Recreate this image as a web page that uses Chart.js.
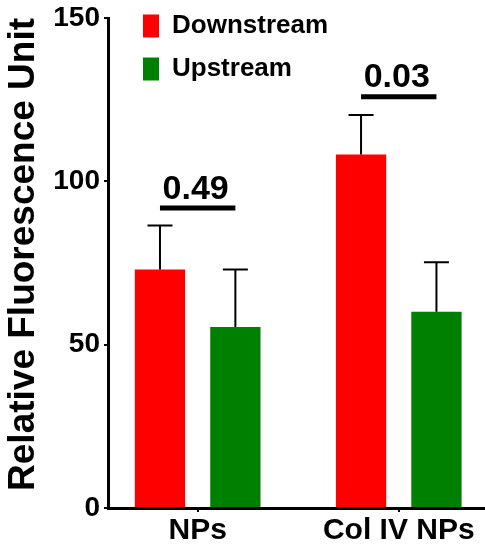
<!DOCTYPE html>
<html><head><meta charset="utf-8">
<script src="https://cdn.jsdelivr.net/npm/chart.js@4.4.1/dist/chart.umd.min.js"></script>
<style>html,body{margin:0;padding:0;background:#fff}</style>
</head><body>
<canvas id="c" width="485" height="550"></canvas>
<script>
const categories = ['NPs', 'Col IV NPs'];
const seriesNames = ['Downstream', 'Upstream'];
const downstream = [73.0, 108.2];
const upstream = [55.4, 60.1];
const downstreamErr = [13.5, 12.1];
const upstreamErr = [17.6, 15.1];
const pValues = ['0.49', '0.03'];
const bracketLevels = [91.8, 125.9];
const yTicks = [0, 50, 100, 150];
const yTitle = 'Relative Fluorescence Unit';

const FAM = "'Liberation Sans', Arial, sans-serif";
const errs = [downstreamErr, upstreamErr];

const overlay = {
  id: 'overlay',
  afterLayout(chart) {
    const lg = chart.legend;
    if (!lg) return;
    const dx = (chart.chartArea.left + 18) - lg.left;
    const dy = (chart.chartArea.top - 22) - lg.top;
    lg.left += dx; lg.right += dx; lg.top += dy; lg.bottom += dy;
  },
  afterDatasetsDraw(chart) {
    const ctx = chart.ctx, ys = chart.scales.y;
    ctx.save();
    ctx.strokeStyle = '#000';
    ctx.lineWidth = 2;
    chart.data.datasets.forEach((ds, d) => {
      const meta = chart.getDatasetMeta(d);
      meta.data.forEach((el, i) => {
        const v = ds.data[i].y;
        const yTop = ys.getPixelForValue(v + errs[d][i]);
        ctx.beginPath();
        ctx.moveTo(el.x, el.y);
        ctx.lineTo(el.x, yTop);
        ctx.moveTo(el.x - 12.5, yTop);
        ctx.lineTo(el.x + 12.5, yTop);
        ctx.stroke();
      });
    });
    const m0 = chart.getDatasetMeta(0), m1 = chart.getDatasetMeta(1);
    ctx.lineWidth = 5;
    ctx.fillStyle = '#000';
    ctx.font = 'bold 34px ' + FAM;
    ctx.textAlign = 'center';
    ctx.textBaseline = 'alphabetic';
    categories.forEach((c, i) => {
      const x0 = m0.data[i].x, x1 = m1.data[i].x;
      const yy = ys.getPixelForValue(bracketLevels[i]);
      ctx.beginPath();
      ctx.moveTo(x0, yy);
      ctx.lineTo(x1, yy);
      ctx.stroke();
      ctx.fillText(pValues[i], (x0 + x1) / 2 - 2, yy - 9.5);
    });
    ctx.restore();
  }
};

new Chart(document.getElementById('c'), {
  type: 'bar',
  data: {
    datasets: [
      { label: seriesNames[0], data: downstream.map((v, i) => ({x: i, y: v})), backgroundColor: '#FF0000', borderWidth: 0 },
      { label: seriesNames[1], data: upstream.map((v, i) => ({x: i, y: v})), backgroundColor: '#008000', borderWidth: 0 }
    ]
  },
  options: {
    responsive: false,
    animation: false,
    categoryPercentage: 0.75,
    barPercentage: 0.667,
    layout: { padding: { left: 0, right: 1, top: 0, bottom: 0 } },
    plugins: {
      legend: {
        position: 'chartArea',
        align: 'start',
        labels: { boxWidth: 16, boxHeight: 23, padding: 17, color: '#000', font: { size: 26, weight: 'bold', family: FAM } }
      },
      tooltip: { enabled: false }
    },
    scales: {
      x: {
        type: 'linear',
        min: -0.446,
        max: 1.424,
        offset: false,
        afterBuildTicks: s => { s.ticks = categories.map((c, i) => ({ value: i })); },
        afterFit: s => { s.height = 42; },
        ticks: { callback: v => categories[v] ?? '', color: '#000', padding: 1, maxRotation: 0, autoSkip: false, font: { size: 30, weight: 'bold', family: FAM, lineHeight: 1.2 } },
        grid: { offset: false, drawOnChartArea: false, drawTicks: true, tickLength: 4, color: '#000', lineWidth: 2 },
        border: { display: true, color: '#000', width: 3, z: 1 }
      },
      y: {
        min: 0,
        max: 150,
        afterBuildTicks: s => { s.ticks = yTicks.map(v => ({ value: v })); },
        afterFit: s => { s.width = 108; },
        ticks: { color: '#000', padding: 4, font: { size: 28, weight: 'bold', family: FAM, lineHeight: 1 } },
        grid: { drawOnChartArea: false, drawTicks: true, tickLength: 4, color: '#000', lineWidth: 2 },
        border: { display: true, color: '#000', width: 3, z: 1 },
        title: { display: true, text: yTitle, align: 'end', color: '#000', padding: { top: 2, bottom: 0 }, font: { size: 37, weight: 'bold', family: FAM, lineHeight: 1.2 } }
      }
    }
  },
  plugins: [overlay]
});
</script>
</body></html>
